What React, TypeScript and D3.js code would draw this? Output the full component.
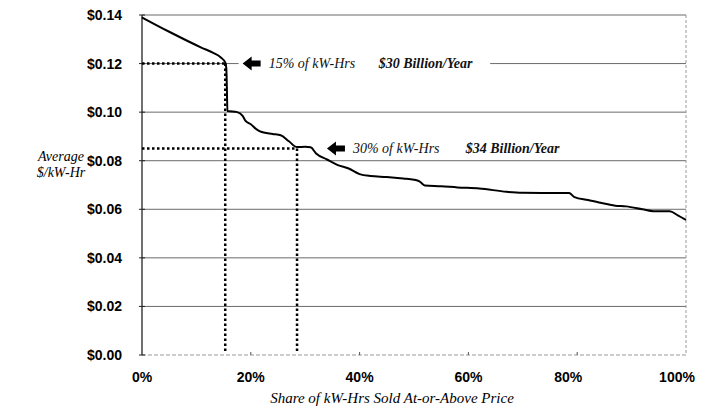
import { useEffect } from "react";
import * as d3 from "d3";

// share of kW-Hrs sold at or above price (%), and average $/kW-Hr
const share = [
  0, 5, 11, 13, 14.5, 15.3, 15.5, 15.6, 15.7, 17.5, 18.5, 19, 20, 21, 22, 24, 25.5, 27, 28.5, 30, 31,
  32, 34, 36, 38, 40, 42, 45, 48, 50, 51, 52, 55, 58, 62, 67, 70, 75, 78.5, 79.5, 82, 84, 87, 89, 92,
  94, 97, 98.5, 100,
];
const price = [
  0.139, 0.1331, 0.1265, 0.1245, 0.1225, 0.1205, 0.118, 0.11, 0.1005, 0.1, 0.0985, 0.0965, 0.095,
  0.093, 0.0918, 0.091, 0.0905, 0.088, 0.0856, 0.0857, 0.0855, 0.083, 0.0805, 0.0782, 0.0768, 0.0745,
  0.0737, 0.0733, 0.0727, 0.0722, 0.0715, 0.0698, 0.0695, 0.069, 0.0686, 0.0672, 0.0668, 0.0667,
  0.0667, 0.065, 0.0638, 0.0628, 0.0615, 0.0612, 0.06, 0.0592, 0.0592, 0.0575, 0.0556,
];

const yTicks = [0, 0.02, 0.04, 0.06, 0.08, 0.1, 0.12, 0.14];
const xTicks = [0, 20, 40, 60, 80, 100];

// the two marked points on the curve
const markers = [
  { share: 15.3, price: 0.12, pct: "15% of kW-Hrs", dollars: "$30 Billion/Year", arrowAt: 18.5, dollarsAt: 43.5 },
  { share: 28.5, price: 0.085, pct: "30% of kW-Hrs", dollars: "$34 Billion/Year", arrowAt: 34, dollarsAt: 59.5 },
];

const W = 701;
const H = 408;
const margin = { top: 15, right: 15, bottom: 53, left: 142 };

export default function App() {
  useEffect(() => {
    document.body.style.margin = "0";
  }, []);

  const x = d3.scaleLinear().domain([0, 100]).range([margin.left, W - margin.right]);
  const y = d3.scaleLinear().domain([0, 0.14]).range([H - margin.bottom, margin.top]);

  const pts = share.map((s, i) => [s, price[i]] as [number, number]);
  const line = d3
    .line<[number, number]>()
    .x((d) => x(d[0]))
    .y((d) => y(d[1]))
    .curve(d3.curveMonotoneX);

  const serif = "'Liberation Serif', 'Times New Roman', serif";
  const sans = "'Liberation Sans', Arial, sans-serif";

  return (
    <svg width={W} height={H} style={{ display: "block", background: "#fff" }}>
      {/* gridlines */}
      {yTicks.slice(1).map((t) => (
        <line key={t} x1={x(0)} x2={x(100)} y1={y(t)} y2={y(t)} stroke="#6a6a6a" strokeWidth={1} />
      ))}
      {/* right border */}
      <line x1={x(100)} x2={x(100)} y1={y(0.14)} y2={y(0)} stroke="#999" strokeWidth={1} strokeDasharray="3,2" />
      {/* bottom axis */}
      <line x1={x(0)} x2={x(100)} y1={y(0)} y2={y(0)} stroke="#999" strokeWidth={1} strokeDasharray="4,2" />
      {xTicks.slice(1, -1).map((t) => (
        <line key={t} x1={x(t)} x2={x(t)} y1={y(0)} y2={y(0) - 3} stroke="#555" />
      ))}
      {/* left axis */}
      <line x1={x(0)} x2={x(0)} y1={y(0.14)} y2={y(0)} stroke="#222" strokeWidth={1.3} />
      {yTicks.map((t) => (
        <line key={t} x1={x(0) - 3} x2={x(0) + 3} y1={y(t)} y2={y(t)} stroke="#222" />
      ))}

      {/* label backgrounds + arrows */}
      {markers.map((m, i) => (
        <g key={i}>
          {i === 0 && (
            <rect x={x(m.arrowAt) - 4} y={y(m.price) - 9} width={x(64) - x(m.arrowAt) + 4} height={18} fill="#fff" />
          )}
          <path
            d={`M${x(m.arrowAt)},${y(m.price)} l9,-7 v4 h9 v6 h-9 v4 z`}
            fill="#000"
          />
          <text
            x={x(m.arrowAt) + 26}
            y={y(m.price) + 4.5}
            fontFamily={serif}
            fontStyle="italic"
            fontSize={14}
            fill="#111"
          >
            {m.pct}
          </text>
          <text
            x={x(m.dollarsAt)}
            y={y(m.price) + 4.5}
            fontFamily={serif}
            fontStyle="italic"
            fontWeight="bold"
            fontSize={14}
            fill="#111"
          >
            {m.dollars}
          </text>
        </g>
      ))}

      {/* dotted guides */}
      {markers.map((m, i) => (
        <g key={i} stroke="#000" strokeWidth={2.5} strokeDasharray="2.5,2.5" fill="none">
          <line x1={x(0)} x2={x(m.share)} y1={y(m.price)} y2={y(m.price)} />
          <line x1={x(m.share)} x2={x(m.share)} y1={y(m.price)} y2={y(0) - 3} />
        </g>
      ))}

      {/* curve */}
      <path d={line(pts) || ""} fill="none" stroke="#000" strokeWidth={2} />

      {/* y tick labels */}
      {yTicks.map((t) => (
        <text
          key={t}
          x={x(0) - 20}
          y={y(t) + 5}
          textAnchor="end"
          fontFamily={sans}
          fontWeight="bold"
          fontSize={14}
          fill="#000"
        >
          {`$${t.toFixed(2)}`}
        </text>
      ))}
      {/* x tick labels (the last two sit a little left of their ticks, as in the original) */}
      {xTicks.map((t) => (
        <text
          key={t}
          x={x(t) - (t >= 80 ? 9 : 0)}
          y={y(0) + 27}
          textAnchor="middle"
          fontFamily={sans}
          fontWeight="bold"
          fontSize={14}
          fill="#000"
        >
          {`${t}%`}
        </text>
      ))}

      {/* axis titles */}
      <text x={61} y={161} textAnchor="middle" fontFamily={serif} fontStyle="italic" fontSize={14}>
        Average
      </text>
      <text x={61} y={177} textAnchor="middle" fontFamily={serif} fontStyle="italic" fontSize={14}>
        $/kW-Hr
      </text>
      <text x={392} y={H - 5} textAnchor="middle" fontFamily={serif} fontStyle="italic" fontSize={15}>
        Share of kW-Hrs Sold At-or-Above Price
      </text>
    </svg>
  );
}
